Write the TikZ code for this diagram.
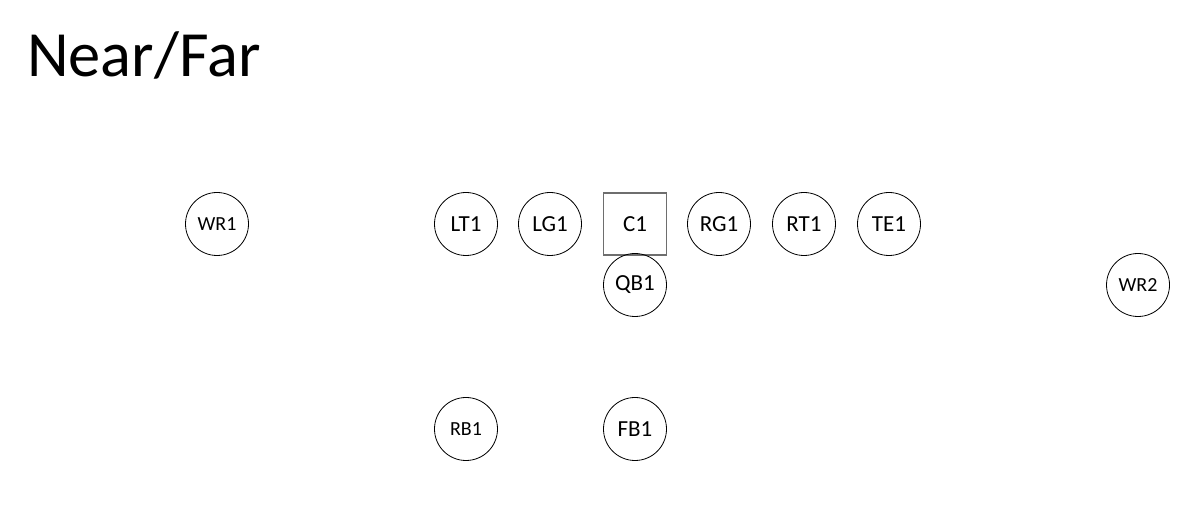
\documentclass[tikz,border=0pt]{standalone}
\usepackage{fontspec}
\setmainfont{Carlito}
\definecolor{boxgray}{RGB}{110,110,110}
\begin{document}
\begin{tikzpicture}[x=1pt,y=1pt,
  player/.style={circle,draw=black,line width=0.8pt,minimum size=63pt,inner sep=0pt,font=\fontsize{23}{26}\selectfont},
  smallplayer/.style={player,font=\fontsize{20}{23}\selectfont},
  center/.style={rectangle,draw=boxgray,line width=1.1pt,minimum width=63pt,minimum height=62pt,inner sep=0pt,font=\fontsize{23}{26}\selectfont}]
\useasboundingbox (0,0) rectangle (1202,532);
\node[anchor=base west,inner sep=0pt,font=\fontsize{64.5}{70}\selectfont] (title) at (27,455) {Near/Far};
\node[smallplayer] (WR1) at (217,308) {WR1};
\node[player] (LT1) at (466,308) {LT1};
\node[player] (LG1) at (550,308) {LG1};
\node[center] (C1) at (635,308) {C1};
\node[player] (RG1) at (719,308) {RG1};
\node[player] (RT1) at (804,308) {RT1};
\node[player] (TE1) at (889,308) {TE1};
\node[player] (QB1) at (635,247) {QB1};
\node[smallplayer] (WR2) at (1138,247) {WR2};
\node[smallplayer] (RB1) at (466,103) {RB1};
\node[player] (FB1) at (635,103) {FB1};
\end{tikzpicture}
\end{document}
